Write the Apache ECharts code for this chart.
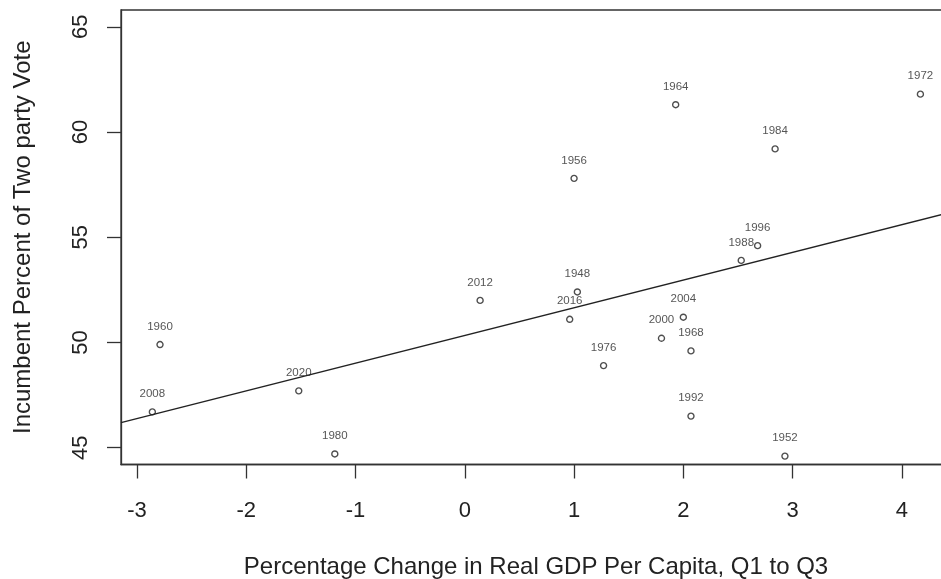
<!DOCTYPE html>
<html>
<head>
<meta charset="utf-8">
<script src="https://cdn.jsdelivr.net/npm/echarts@6/dist/echarts.min.js"></script>
<style>
  html, body { margin: 0; padding: 0; background: #fff; }
  #chart { width: 941px; height: 579px; }
</style>
</head>
<body>
<div id="chart"></div>
<script>
// election years and values
var years = ['1948', '1952', '1956', '1960', '1964', '1968', '1972', '1976', '1980', '1984',
             '1988', '1992', '1996', '2000', '2004', '2008', '2012', '2016', '2020'];
var gdpChange = [1.03, 2.93, 1.00, -2.79, 1.93, 2.07, 4.17, 1.27, -1.19, 2.84,
                 2.53, 2.07, 2.68, 1.80, 2.00, -2.86, 0.14, 0.96, -1.52];
var voteShare = [52.4, 44.6, 57.8, 49.9, 61.3, 49.6, 61.8, 48.9, 44.7, 59.2,
                 53.9, 46.5, 54.6, 50.2, 51.2, 46.7, 52.0, 51.1, 47.7];
// regression line ends, read at the plot edges
var fitLine = [[-3.147, 46.19], [4.45, 56.19]];
var xTicks = [-3, -2, -1, 0, 1, 2, 3, 4];
var yTicks = [45, 50, 55, 60, 65];

var Page = function(){

	var scatterChart;

	var initScatterChart = function(){
		scatterChart = echarts.init(document.getElementById('chart'));

		var points = [];
		for (var i = 0; i < years.length; i++) {
			points.push([gdpChange[i], voteShare[i], years[i]]);
		}

		var font = 'Liberation Sans, Arial, Helvetica, sans-serif';

		var option = {
			animation: false,
			backgroundColor: '#fff',
			grid: {
				left: 121,
				top: 10,
				width: 830,   // box runs past the right edge of the picture
				bottom: 114.5,
				outerBoundsMode: 'none',
				show: true,
				borderColor: '#333',
				borderWidth: 1.3
			},
			xAxis: {
				type: 'value',
				min: -3.147,
				max: 4.45,
				name: 'Percentage Change in Real GDP Per Capita, Q1 to Q3',
				nameLocation: 'middle',
				nameGap: 91,
				nameTextStyle: { fontFamily: font, fontSize: 24, color: '#222' },
				splitLine: { show: false },
				axisLine: { show: true, onZero: false, lineStyle: { color: '#333', width: 1.3 } },
				axisTick: { show: true, length: 14, customValues: xTicks, lineStyle: { color: '#333', width: 1.3 } },
				axisLabel: {
					customValues: xTicks,
					margin: 35,
					fontFamily: font,
					fontSize: 22,
					color: '#222'
				}
			},
			yAxis: {
				type: 'value',
				min: 44.2,
				max: 65.8,
				name: 'Incumbent Percent of Two party Vote',
				nameLocation: 'middle',
				nameGap: 86,
				nameTextStyle: { fontFamily: font, fontSize: 24, color: '#222' },
				splitLine: { show: false },
				axisLine: { show: true, onZero: false, lineStyle: { color: '#333', width: 1.3 } },
				axisTick: { show: true, length: 14, customValues: yTicks, lineStyle: { color: '#333', width: 1.3 } },
				axisLabel: {
					customValues: yTicks,
					rotate: 90,
					margin: 29,
					fontFamily: font,
					fontSize: 22,
					color: '#222'
				}
			},
			series: [
				{
					name: 'fit',
					type: 'line',
					data: fitLine,
					symbol: 'none',
					silent: true,
					lineStyle: { color: '#222', width: 1.5 }
				},
				{
					name: 'elections',
					type: 'scatter',
					data: points,
					symbol: 'circle',
					symbolSize: 6,
					itemStyle: { color: '#fff', borderColor: '#222', borderWidth: 1.4 },
					label: {
						show: true,
						position: 'inside',
						offset: [0, -18],
						formatter: function (p) { return p.value[2]; },
						fontFamily: font,
						fontSize: 11.5,
						color: '#2a2a2a'
					}
				}
			]
		};
		scatterChart.setOption(option);
	}

	return {
		init:function(){
			initScatterChart();
		}
	}
}();

Page.init();
</script>
</body>
</html>
